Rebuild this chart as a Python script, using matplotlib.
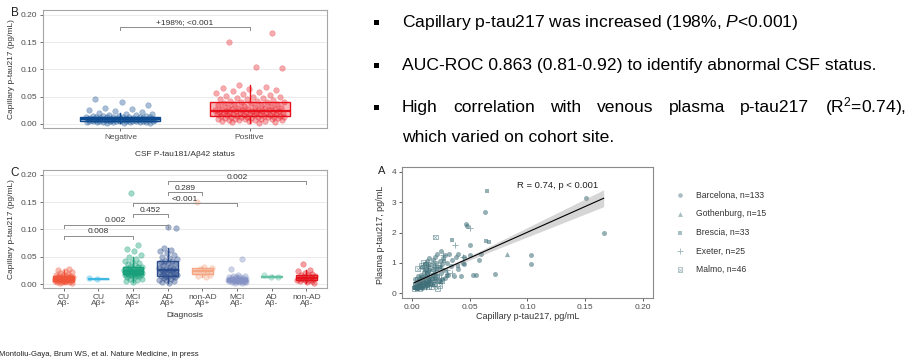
import numpy as np
import matplotlib
matplotlib.use('Agg')
import matplotlib.pyplot as plt
from matplotlib.colors import to_rgba
from matplotlib.patches import Rectangle

plt.rcParams['font.family'] = ['Liberation Sans', 'DejaVu Sans']
plt.rcParams['mathtext.fontset'] = 'custom'
plt.rcParams['mathtext.rm'] = 'Liberation Sans'
plt.rcParams['mathtext.it'] = 'Liberation Sans:italic'

# ---------------- DATA ----------------
# Panel B: capillary p-tau217 by CSF status
b_categories = ["Negative", "Positive"]
b_negative = [0.001, 0.002, 0.002, 0.003, 0.003, 0.003, 0.004, 0.004, 0.004, 0.004, 0.005, 0.005,
              0.005, 0.005, 0.005, 0.006, 0.006, 0.006, 0.006, 0.006, 0.006, 0.007, 0.007, 0.007,
              0.007, 0.007, 0.007, 0.007, 0.008, 0.008, 0.008, 0.008, 0.008, 0.008, 0.008, 0.009,
              0.009, 0.009, 0.009, 0.009, 0.009, 0.009, 0.009, 0.010, 0.010, 0.010, 0.010, 0.010,
              0.010, 0.010, 0.011, 0.011, 0.011, 0.011, 0.011, 0.012, 0.012, 0.012, 0.012, 0.012,
              0.013, 0.013, 0.013, 0.014, 0.014, 0.015, 0.015, 0.016, 0.017, 0.018, 0.019, 0.020,
              0.022, 0.024, 0.026, 0.028, 0.030, 0.035, 0.040, 0.046]
b_positive = [0.002, 0.003, 0.004, 0.005, 0.006, 0.006, 0.007, 0.007, 0.008, 0.008, 0.009, 0.009,
              0.010, 0.010, 0.010, 0.011, 0.011, 0.011, 0.012, 0.012, 0.012, 0.012, 0.013, 0.013,
              0.013, 0.014, 0.014, 0.015, 0.015, 0.016, 0.016, 0.017, 0.017, 0.018, 0.018, 0.018,
              0.019, 0.019, 0.020, 0.020, 0.020, 0.021, 0.021, 0.021, 0.022, 0.022, 0.022, 0.023,
              0.023, 0.023, 0.024, 0.024, 0.025, 0.025, 0.026, 0.026, 0.027, 0.027, 0.028, 0.028,
              0.029, 0.030, 0.030, 0.031, 0.032, 0.033, 0.033, 0.034, 0.035, 0.036, 0.037, 0.038,
              0.039, 0.040, 0.040, 0.041, 0.042, 0.043, 0.044, 0.045, 0.046, 0.047, 0.048, 0.049,
              0.050, 0.052, 0.054, 0.055, 0.057, 0.058, 0.060, 0.062, 0.064, 0.066, 0.068, 0.071,
              0.103, 0.104, 0.151, 0.166]
b_bracket = (1, 2, 0.1775, "+198%; <0.001")

# Panel C: capillary p-tau217 by diagnosis
c_categories = ["CU\nAβ-", "CU\nAβ+", "MCI\nAβ+", "AD\nAβ+", "non-AD\nAβ+", "MCI\nAβ-", "AD\nAβ-", "non-AD\nAβ-"]
c_cu_neg = [0.001, 0.002, 0.003, 0.003, 0.004, 0.004, 0.005, 0.005, 0.005, 0.006, 0.006, 0.007,
            0.007, 0.008, 0.008, 0.008, 0.009, 0.009, 0.009, 0.010, 0.010, 0.010, 0.011, 0.011,
            0.012, 0.012, 0.013, 0.013, 0.014, 0.014, 0.015, 0.016, 0.017, 0.018, 0.020, 0.022,
            0.024, 0.026, 0.028]
c_cu_pos = [0.0095, 0.0102]
c_mci_pos = [0.003, 0.005, 0.007, 0.009, 0.010, 0.012, 0.013, 0.014, 0.015, 0.016, 0.016, 0.017,
             0.017, 0.018, 0.018, 0.019, 0.019, 0.020, 0.020, 0.021, 0.021, 0.022, 0.022, 0.023,
             0.023, 0.023, 0.024, 0.024, 0.025, 0.025, 0.026, 0.026, 0.027, 0.028, 0.029, 0.030,
             0.031, 0.031, 0.032, 0.034, 0.036, 0.038, 0.040, 0.043, 0.046, 0.050, 0.054, 0.060,
             0.065, 0.072, 0.166]
c_ad_pos = [0.001, 0.003, 0.005, 0.007, 0.008, 0.010, 0.011, 0.012, 0.013, 0.014, 0.014, 0.015,
            0.016, 0.018, 0.019, 0.020, 0.021, 0.022, 0.023, 0.024, 0.025, 0.025, 0.026, 0.027,
            0.028, 0.030, 0.032, 0.034, 0.036, 0.038, 0.040, 0.042, 0.043, 0.045, 0.048, 0.050,
            0.053, 0.056, 0.060, 0.063, 0.066, 0.103, 0.104]
c_nonad_pos = [0.013, 0.015, 0.017, 0.020, 0.022, 0.024, 0.027, 0.030, 0.032, 0.151]
c_mci_neg = [0.001, 0.002, 0.003, 0.003, 0.004, 0.004, 0.005, 0.005, 0.005, 0.006, 0.006, 0.006,
             0.007, 0.007, 0.007, 0.008, 0.008, 0.008, 0.008, 0.009, 0.009, 0.009, 0.010, 0.010,
             0.010, 0.011, 0.011, 0.012, 0.012, 0.013, 0.014, 0.015, 0.017, 0.027, 0.045]
c_ad_neg = [0.012, 0.013, 0.016]
c_nonad_neg = [0.002, 0.003, 0.005, 0.006, 0.007, 0.007, 0.008, 0.009, 0.010, 0.011, 0.011, 0.012,
               0.013, 0.014, 0.016, 0.017, 0.018, 0.020, 0.023, 0.026, 0.037]
c_brackets = [(1, 3, 0.088, "0.008"), (1, 4, 0.108, "0.002"), (3, 4, 0.128, "0.452"),
              (3, 6, 0.148, "<0.001"), (4, 5, 0.168, "0.289"), (4, 8, 0.188, "0.002")]

# Panel A: capillary vs plasma p-tau217 by site
bcn_x = [0.002, 0.003, 0.004, 0.005, 0.005, 0.006, 0.007, 0.007, 0.008, 0.008, 0.009, 0.009, 0.010,
         0.010, 0.011, 0.011, 0.012, 0.012, 0.013, 0.013, 0.014, 0.014, 0.015, 0.015, 0.016, 0.016,
         0.017, 0.018, 0.018, 0.019, 0.020, 0.020, 0.021, 0.022, 0.022, 0.023, 0.024, 0.025, 0.025,
         0.026, 0.027, 0.028, 0.029, 0.030, 0.031, 0.032, 0.034, 0.035, 0.036, 0.038, 0.040, 0.042,
         0.044, 0.045, 0.047, 0.048, 0.050, 0.053, 0.055, 0.058, 0.060, 0.063, 0.072, 0.103, 0.103,
         0.151, 0.166, 0.004, 0.006, 0.008, 0.010, 0.012, 0.014, 0.016, 0.003, 0.005, 0.009, 0.011,
         0.013, 0.015, 0.017, 0.019, 0.021, 0.023, 0.026, 0.029, 0.050, 0.045, 0.040]
bcn_y = [0.20, 0.30, 0.25, 0.40, 0.18, 0.35, 0.50, 0.22, 0.60, 0.30, 0.45, 0.85, 0.35,
         0.70, 0.55, 0.95, 0.40, 0.80, 0.65, 1.05, 0.50, 0.90, 0.75, 1.15, 0.45, 0.95,
         0.80, 1.10, 0.60, 0.90, 1.20, 0.70, 1.00, 0.55, 1.30, 0.85, 1.05, 0.65, 1.40,
         0.95, 1.15, 0.75, 1.25, 1.00, 0.60, 1.30, 0.90, 1.10, 0.55, 1.20, 1.30, 0.55,
         1.00, 1.20, 2.28, 2.20, 1.60, 0.60, 0.58, 1.10, 1.28, 2.68, 0.64, 1.24, 0.96,
         3.14, 1.97, 0.15, 0.28, 0.20, 0.25, 0.30, 0.35, 0.30, 0.45, 0.55, 0.15, 0.20,
         0.28, 0.40, 0.50, 0.38, 0.45, 0.40, 0.45, 0.50, 1.25, 0.95, 0.78]
got_x = [0.082, 0.005, 0.010, 0.015, 0.020, 0.008, 0.025, 0.003, 0.012, 0.030, 0.006, 0.018, 0.009, 0.004, 0.014]
got_y = [1.30, 0.30, 0.45, 0.55, 0.65, 0.25, 0.90, 0.20, 0.35, 0.70, 0.40, 0.30, 0.55, 0.15, 0.80]
bre_x = [0.065, 0.035, 0.064, 0.067, 0.005, 0.008, 0.010, 0.012, 0.015, 0.018, 0.020, 0.003,
         0.006, 0.022, 0.025, 0.028, 0.004, 0.009, 0.013, 0.016, 0.030, 0.040, 0.007, 0.011]
bre_y = [3.37, 1.75, 1.72, 1.70, 0.20, 0.35, 0.30, 0.50, 0.25, 0.60, 0.45, 0.15,
         0.40, 0.80, 0.35, 1.05, 0.28, 0.18, 0.65, 0.38, 0.55, 0.90, 0.22, 0.75]
exe_x = [0.050, 0.037, 0.044, 0.005, 0.010, 0.015, 0.020, 0.025, 0.008, 0.012, 0.018, 0.030,
         0.003, 0.007, 0.022, 0.027, 0.035, 0.014]
exe_y = [2.15, 1.60, 1.20, 0.25, 0.40, 0.60, 0.85, 0.50, 0.30, 0.20, 1.00, 0.75,
         0.18, 0.45, 0.35, 1.25, 0.65, 0.90]
mal_x = [0.020, 0.012, 0.022, 0.010, 0.004, 0.006, 0.008, 0.009, 0.011, 0.013, 0.014, 0.016,
         0.018, 0.019, 0.021, 0.023, 0.024, 0.026, 0.002, 0.003, 0.005, 0.007, 0.015, 0.017,
         0.005, 0.008]
mal_y = [1.85, 0.95, 0.15, 1.00, 0.20, 0.35, 0.25, 0.50, 0.30, 0.60, 0.20, 0.45,
         0.70, 0.30, 0.55, 0.85, 0.25, 0.40, 0.15, 0.30, 0.45, 0.15, 0.35, 0.22,
         0.80, 0.90]
site_labels = ["Barcelona, n=133", "Gothenburg, n=15", "Brescia, n=33", "Exeter, n=25", "Malmo, n=46"]
fit_intercept = 0.31
fit_slope = 17.0
corr_text = "R = 0.74, p < 0.001"

# Text panel
bullet_lines = ["Capillary p-tau217 was increased (198%, $\\mathit{P}$<0.001)",
                "AUC-ROC 0.863 (0.81-0.92) to identify abnormal CSF status."]
justified_words = ["High", "correlation", "with", "venous", "plasma", "p-tau217", "(R$^{2}$=0.74),"]
last_line = "which varied on cohort site."
footer = "Montoliu-Gaya, Brum WS, et al. Nature Medicine, in press"

# ---------------- FIGURE ----------------
W, H = 920, 361
fig = plt.figure(figsize=(W / 100, H / 100), dpi=100)


def fx(px):
    return px / W


def fy(py):
    return 1 - py / H


def ax_rect(l, t, r, b):
    return [fx(l), fy(b), (r - l) / W, (b - t) / H]


def jitter(n, w, off=0):
    k = np.arange(n) + off
    return ((k * 0.6180339887 + 0.31) % 1.0 - 0.5) * 2 * w


TICKC = '#4d4d4d'
FS = 6


def style_bw(ax):
    for s in ax.spines.values():
        s.set_color('#a6a6a6')
        s.set_linewidth(0.8)
    ax.set_axisbelow(True)
    ax.yaxis.grid(True, color='#ebebeb', linewidth=0.7)
    ax.tick_params(axis='both', colors='#555555', labelcolor=TICKC, labelsize=FS,
                   length=2.5, width=0.6, pad=1.5)


def draw_group(ax, pos, vals, color, width, jit, off, box_alpha=0.3, pt_alpha=0.35):
    vals = np.asarray(vals, dtype=float)
    ax.boxplot([vals], positions=[pos], widths=width, patch_artist=True, showfliers=False,
               showcaps=False, whis=1.5, manage_ticks=False,
               boxprops=dict(facecolor=to_rgba(color, box_alpha), edgecolor=color, linewidth=1.0),
               medianprops=dict(color=color, linewidth=1.6),
               whiskerprops=dict(color=color, linewidth=1.0), zorder=2)
    ax.scatter(pos + jitter(len(vals), jit, off), vals, s=16, color=color, alpha=pt_alpha,
               linewidths=0.4, edgecolors=to_rgba(color, 0.5), zorder=3)


def bracket(ax, x1, x2, y, label, tip=0.0045):
    ax.plot([x1, x1, x2, x2], [y - tip, y, y, y - tip], color='#8c8c8c', linewidth=0.7, zorder=4)
    ax.text((x1 + x2) / 2, y + 0.0012, label, ha='center', va='bottom', fontsize=FS, color='#333333', zorder=5)


# ---- Panel B ----
axB = fig.add_axes(ax_rect(43, 10, 327, 128.3))
style_bw(axB)
b_colors = ['#0d4a8f', '#e8101a']
for i, (vals, col) in enumerate(zip([b_negative, b_positive], b_colors)):
    draw_group(axB, i + 1, vals, col, 0.62, 0.27, off=i * 7)
bracket(axB, *b_bracket, tip=0.0045)
axB.set_xlim(0.4, 2.6)
axB.set_ylim(-0.0079, 0.209)
axB.set_yticks([0, 0.05, 0.10, 0.15, 0.20])
axB.set_yticklabels(["0.00", "0.05", "0.10", "0.15", "0.20"])
axB.set_xticks([1, 2])
axB.set_xticklabels(b_categories)
axB.set_ylabel("Capillary p-tau217 (pg/mL)", fontsize=FS, color='#333333')
axB.yaxis.set_label_coords(-0.098, 0.5)
axB.set_xlabel("CSF P-tau181/Aβ42 status", fontsize=FS, color='#333333')
axB.xaxis.set_label_coords(0.5, -0.19)

# ---- Panel C ----
axC = fig.add_axes(ax_rect(43, 170, 327, 288))
style_bw(axC)
c_groups = [c_cu_neg, c_cu_pos, c_mci_pos, c_ad_pos, c_nonad_pos, c_mci_neg, c_ad_neg, c_nonad_neg]
c_colors = ['#f0553a', '#3fb8e4', '#17a07a', '#2b4c8c', '#f4a582', '#8391c4', '#66c2a5', '#e3121b']
for i, (vals, col) in enumerate(zip(c_groups, c_colors)):
    draw_group(axC, i + 1, vals, col, 0.6, 0.27, off=i * 5, box_alpha=0.3, pt_alpha=0.4)
for x1, x2, y, lab in c_brackets:
    bracket(axC, x1, x2, y, lab, tip=0.0055)
axC.set_xlim(0.4, 8.6)
axC.set_ylim(-0.0073, 0.209)
axC.set_yticks([0, 0.05, 0.10, 0.15, 0.20])
axC.set_yticklabels(["0.00", "0.05", "0.10", "0.15", "0.20"])
axC.set_xticks(np.arange(1, 9))
axC.set_xticklabels(c_categories, linespacing=0.95)
axC.set_ylabel("Capillary p-tau217 (pg/mL)", fontsize=FS, color='#333333')
axC.yaxis.set_label_coords(-0.098, 0.5)
axC.set_xlabel("Diagnosis", fontsize=FS, color='#333333')
axC.xaxis.set_label_coords(0.5, -0.2)

# ---- Panel A ----
axA = fig.add_axes(ax_rect(402, 167, 653, 298))
for s in axA.spines.values():
    s.set_color('#8a8a8a')
    s.set_linewidth(0.8)
axA.tick_params(axis='both', colors='#444444', labelcolor=TICKC, labelsize=FS,
                length=2.5, width=0.6, pad=1.5)
ptc = '#3f6f79'
pa = 0.55
axA.scatter(bcn_x, bcn_y, s=13, marker='o', color=ptc, alpha=pa, linewidths=0, zorder=3)
axA.scatter(got_x, got_y, s=14, marker='^', color=ptc, alpha=pa, linewidths=0, zorder=3)
axA.scatter(bre_x, bre_y, s=11, marker='s', color=ptc, alpha=pa, linewidths=0, zorder=3)
axA.scatter(exe_x, exe_y, s=16, marker='+', color=ptc, alpha=pa, linewidths=0.7, zorder=3)
axA.scatter(mal_x, mal_y, s=12, marker='s', facecolors='none', edgecolors=ptc, alpha=pa, linewidths=0.6, zorder=3)
axA.scatter(mal_x, mal_y, s=8, marker='x', color=ptc, alpha=pa, linewidths=0.5, zorder=3)

all_x = np.array(bcn_x + got_x + bre_x + exe_x + mal_x)
all_y = np.array(bcn_y + got_y + bre_y + exe_y + mal_y)
n = len(all_x)
resid = all_y - (fit_intercept + fit_slope * all_x)
s_res = np.sqrt(np.sum(resid ** 2) / (n - 2))
xbar = all_x.mean()
sxx = np.sum((all_x - xbar) ** 2)
xx = np.linspace(all_x.min(), all_x.max(), 100)
yy = fit_intercept + fit_slope * xx
hw = 1.97 * s_res * np.sqrt(1 / n + (xx - xbar) ** 2 / sxx) * 0.75
axA.fill_between(xx, yy - hw, yy + hw, color='#999999', alpha=0.4, linewidth=0, zorder=4)
axA.plot(xx, yy, color='black', linewidth=0.8, zorder=5)
axA.text(0.091, 3.57, corr_text, fontsize=6.8, color='#222222', va='center', ha='left')
axA.set_xlim(-0.00866, 0.2087)
axA.set_ylim(-0.165, 4.165)
axA.set_xticks([0, 0.05, 0.10, 0.15, 0.20])
axA.set_xticklabels(["0.00", "0.05", "0.10", "0.15", "0.20"])
axA.set_yticks([0, 1, 2, 3, 4])
axA.set_xlabel("Capillary p-tau217, pg/mL", fontsize=6.5, color='#333333')
axA.xaxis.set_label_coords(0.5, -0.105)
axA.set_ylabel("Plasma p-tau217, pg/mL", fontsize=6.5, color='#333333')
axA.yaxis.set_label_coords(-0.068, 0.48)

# Legend for panel A (manual, in its own invisible axes)
axL = fig.add_axes(ax_rect(670, 186, 800, 279))
axL.set_axis_off()
axL.set_xlim(0, 1)
axL.set_ylim(4.5, -0.5)
rows = np.arange(len(site_labels))
mx = 0.077
axL.scatter([mx], [rows[0]], s=11, marker='o', color=ptc, alpha=0.45, linewidths=0)
axL.scatter([mx], [rows[1]], s=12, marker='^', color=ptc, alpha=0.45, linewidths=0)
axL.scatter([mx], [rows[2]], s=9, marker='s', color=ptc, alpha=0.45, linewidths=0)
axL.scatter([mx], [rows[3]], s=16, marker='+', color=ptc, alpha=0.45, linewidths=0.7)
axL.scatter([mx], [rows[4]], s=11, marker='s', facecolors='none', edgecolors=ptc, alpha=0.45, linewidths=0.6)
axL.scatter([mx], [rows[4]], s=7, marker='x', color=ptc, alpha=0.45, linewidths=0.5)
for r, lab in zip(rows, site_labels):
    axL.text(0.2, r, lab, fontsize=6.2, color='#333333', va='center', ha='left')

# Panel letters
fig.text(fx(14.5), fy(13), "B", fontsize=8.5, ha='center', va='center', color='#222222')
fig.text(fx(14.5), fy(172.5), "C", fontsize=8.5, ha='center', va='center', color='#222222')
fig.text(fx(381.5), fy(171.5), "A", fontsize=8, ha='center', va='center', color='#222222')

# ---- Text panel ----
TFS = 12.6
baselines = [27, 70, 112, 142]
for i in range(3):
    fig.add_artist(Rectangle((fx(374.5), fy(baselines[i] - 2)), 4.5 / W, 4.8 / H,
                             transform=fig.transFigure, color='black', linewidth=0))
fig.text(fx(402), fy(baselines[0]), bullet_lines[0], fontsize=TFS, va='baseline', ha='left', color='black')
fig.text(fx(402), fy(baselines[1]), bullet_lines[1], fontsize=TFS, va='baseline', ha='left', color='black')
fig.text(fx(402), fy(baselines[3]), last_line, fontsize=TFS, va='baseline', ha='left', color='black')

word_artists = [fig.text(0, fy(baselines[2]), w, fontsize=TFS, va='baseline', ha='left', color='black')
                for w in justified_words]
fig.canvas.draw()
renderer = fig.canvas.get_renderer()
widths = [t.get_window_extent(renderer).width for t in word_artists]
left_px, right_px = 402, 906
gap = (right_px - left_px - sum(widths)) / (len(widths) - 1)
cur = left_px
for t, w in zip(word_artists, widths):
    t.set_x(fx(cur))
    cur += w + gap

# Footer
fig.text(fx(-1.5), fy(356), footer, fontsize=5.6, va='baseline', ha='left', color='#222222')

fig.savefig("out.png", dpi=100)
